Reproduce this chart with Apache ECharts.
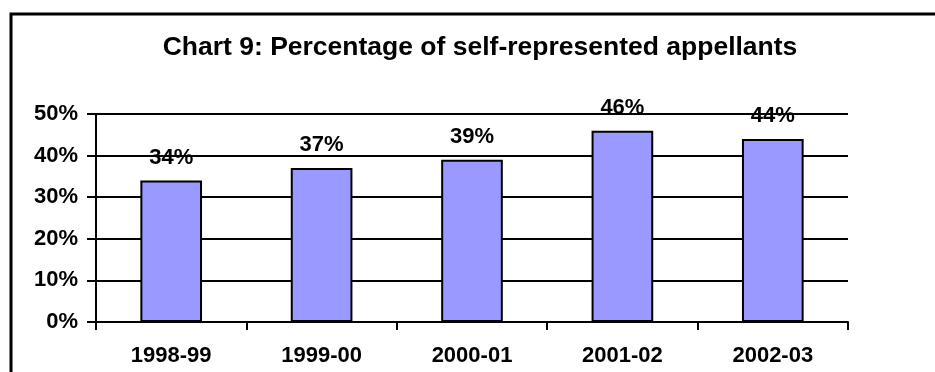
<!DOCTYPE html>
<html>
<head>
<meta charset="utf-8">
<title>Chart 9: Percentage of self-represented appellants</title>
<script src="https://cdn.jsdelivr.net/npm/echarts@6/dist/echarts.min.js"></script>
<style>
  html, body { margin: 0; padding: 0; background: #fff; }
  #chart { width: 935px; height: 372px; }
</style>
</head>
<body>
<div id="chart"></div>
<script>
// Financial years shown along the x axis
const years = ['1998-99', '1999-00', '2000-01', '2001-02', '2002-03'];
// Share of appellants who represented themselves, in percent
const selfRepresented = [34, 37, 39, 46, 44];
// Y axis range and step, in percent
const yMin = 0;
const yMax = 50;
const yStep = 10;

const FONT = '"Liberation Sans", Arial, sans-serif';

const chart = echarts.init(document.getElementById('chart'), null, { renderer: 'canvas' });

chart.setOption({
  animation: false,
  backgroundColor: '#ffffff',
  title: {
    text: 'Chart 9: Percentage of self-represented appellants',
    left: 475,
    top: 29,
    textAlign: 'center',
    textStyle: { fontFamily: FONT, fontSize: 26.5, fontWeight: 'bold', color: '#000' }
  },
  graphic: [{
    type: 'polyline',
    shape: { points: [[11, 380], [11, 14], [945, 14]] },
    style: { stroke: '#000', lineWidth: 3, fill: null },
    silent: true
  }],
  grid: { left: 96, right: 87, top: 114, bottom: 50 },
  xAxis: {
    type: 'category',
    data: years,
    axisLine: { show: true, lineStyle: { color: '#000', width: 2 } },
    axisTick: { show: true, length: 8, lineStyle: { color: '#000', width: 2 } },
    axisLabel: { margin: 23, fontFamily: FONT, fontSize: 22, fontWeight: 'bold', color: '#000' },
    splitLine: { show: false }
  },
  yAxis: {
    type: 'value',
    min: yMin,
    max: yMax,
    interval: yStep,
    axisLine: { show: true, lineStyle: { color: '#000', width: 2 } },
    axisTick: { show: true, length: 9, lineStyle: { color: '#000', width: 2 } },
    axisLabel: {
      margin: 18,
      fontFamily: FONT, fontSize: 22, fontWeight: 'bold', color: '#000',
      formatter: v => v + '%'
    },
    splitLine: { show: true, lineStyle: { color: '#000', width: 2 } }
  },
  series: [{
    type: 'bar',
    data: selfRepresented,
    barWidth: '41%',
    itemStyle: { color: '#9999ff', borderColor: '#000', borderWidth: 2 },
    label: {
      show: true,
      position: 'top',
      distance: 12,
      fontFamily: FONT, fontSize: 22, fontWeight: 'bold', color: '#000',
      formatter: p => p.value + '%'
    }
  }]
});
</script>
</body>
</html>
